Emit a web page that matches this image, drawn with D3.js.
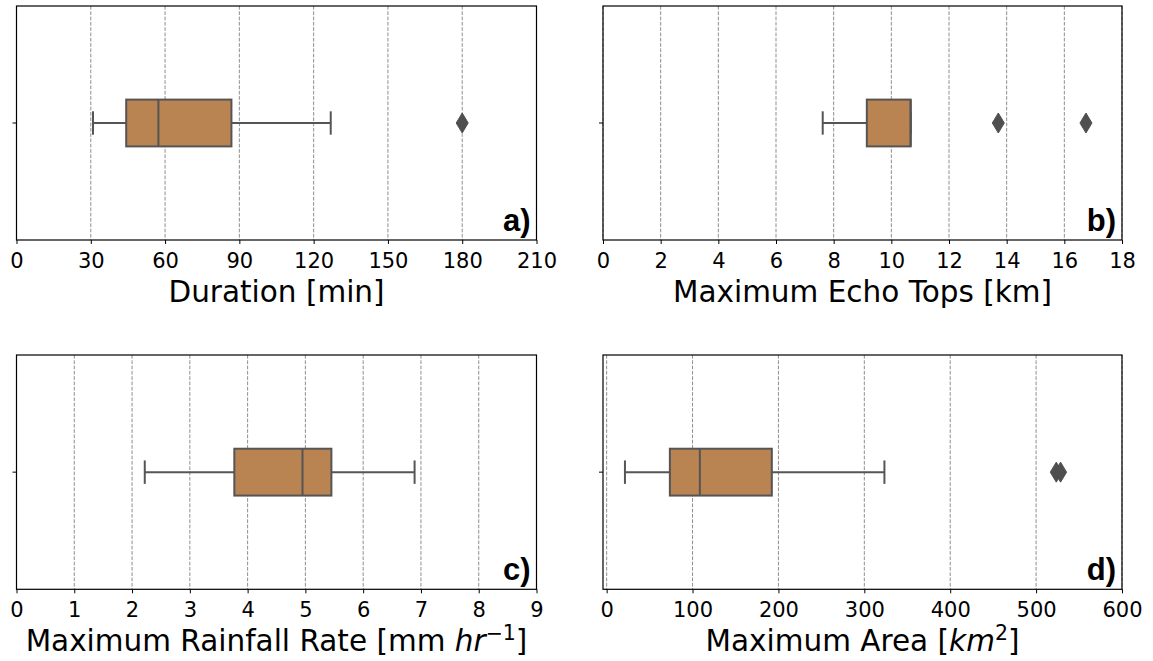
<!DOCTYPE html>
<html>
<head>
<meta charset="utf-8">
<script src="https://cdn.jsdelivr.net/npm/d3@7"></script>
<style>
  html, body { margin: 0; padding: 0; background: #fff; }
  svg { display: block; }
</style>
</head>
<body>
<svg id="chart" width="1153" height="661"></svg>
<script>
// ---- data ----
const panelLabels = ["a)", "b)", "c)", "d)"];
const axisTitles = ["Duration [min]", "Maximum Echo Tops [km]", "Maximum Rainfall Rate [mm ", "Maximum Area ["];
const xDomains = [[0, 210], [0, 18], [0, 9], [-4.25, 600]];
const xTicks = [
  [0, 30, 60, 90, 120, 150, 180, 210],
  [0, 2, 4, 6, 8, 10, 12, 14, 16, 18],
  [0, 1, 2, 3, 4, 5, 6, 7, 8, 9],
  [0, 100, 200, 300, 400, 500, 600]
];
const whiskerLow  = [30.9, 7.62, 2.22, 21.3];
const q1          = [44.3, 9.15, 3.77, 73.6];
const median      = [57.3, 10.67, 4.95, 108.5];
const q3          = [86.8, 10.67, 5.45, 192.3];
const whiskerHigh = [126.9, 10.67, 6.89, 323.4];
const outliers    = [[180], [13.71, 16.75], [], [523.5, 528.5]];

// ---- layout ----
const cols = [[16.5, 536.5], [603, 1122]];
const rows = [[6, 240], [355, 589.3]];
const boxColor = "#ba8452", lineColor = "#555555";

const svg = d3.select("#chart");

panelLabels.forEach((lab, i) => {
  const [x0, x1] = cols[i % 2];
  const [y0, y1] = rows[Math.floor(i / 2)];
  const x = d3.scaleLinear().domain(xDomains[i]).range([x0, x1]);
  const y = d3.scaleBand().domain(["s"]).range([y0, y1]).paddingInner(0).paddingOuter(0);
  const g = svg.append("g");
  const yc = y("s") + y.bandwidth() / 2;
  const bh = (y1 - y0) * 0.2;
  const ch = bh / 2;

  // grid
  g.selectAll(".grid").data(xTicks[i]).join("line")
    .attr("x1", d => x(d)).attr("x2", d => x(d))
    .attr("y1", y0).attr("y2", y1)
    .attr("stroke", "#8f8f8f").attr("stroke-width", 1)
    .attr("stroke-dasharray", "3.7,1.6");

  // x axis
  const ax = g.append("g").attr("transform", `translate(0,${y1})`)
    .call(d3.axisBottom(x).tickValues(xTicks[i]).tickSize(4).tickPadding(5).tickFormat(d3.format("d")));
  ax.select(".domain").remove();
  ax.selectAll(".tick line").attr("stroke", "#000").attr("stroke-width", 1);
  ax.selectAll(".tick text").attr("font-family", "DejaVu Sans").attr("font-size", 21)
    .attr("fill", "#000").attr("dy", null).attr("y", 27.5).attr("dominant-baseline", "auto");

  // y axis single tick
  const ay = g.append("g").attr("transform", `translate(${x0},0)`)
    .call(d3.axisLeft(y).tickSize(4).tickFormat(""));
  ay.select(".domain").remove();
  ay.selectAll(".tick line").attr("stroke", "#000").attr("stroke-width", 1);

  // whiskers
  g.append("line").attr("x1", x(whiskerLow[i])).attr("x2", x(q1[i]))
    .attr("y1", yc).attr("y2", yc).attr("stroke", lineColor).attr("stroke-width", 2);
  g.append("line").attr("x1", x(q3[i])).attr("x2", x(whiskerHigh[i]))
    .attr("y1", yc).attr("y2", yc).attr("stroke", lineColor).attr("stroke-width", 2);
  // caps
  [whiskerLow[i], whiskerHigh[i]].forEach(v => {
    g.append("line").attr("x1", x(v)).attr("x2", x(v))
      .attr("y1", yc - ch / 2).attr("y2", yc + ch / 2)
      .attr("stroke", lineColor).attr("stroke-width", 2);
  });
  // box
  g.append("rect").attr("x", x(q1[i])).attr("width", x(q3[i]) - x(q1[i]))
    .attr("y", yc - bh / 2).attr("height", bh)
    .attr("fill", boxColor).attr("stroke", lineColor).attr("stroke-width", 2);
  // median
  g.append("line").attr("x1", x(median[i])).attr("x2", x(median[i]))
    .attr("y1", yc - bh / 2).attr("y2", yc + bh / 2)
    .attr("stroke", lineColor).attr("stroke-width", 2);
  // outliers (thin diamonds)
  g.selectAll(".fl").data(outliers[i]).join("path")
    .attr("d", d => `M${x(d)},${yc - 10} L${x(d) + 6},${yc} L${x(d)},${yc + 10} L${x(d) - 6},${yc} Z`)
    .attr("fill", "#4f4f4f").attr("stroke", "#4f4f4f").attr("stroke-width", 1);

  // frame
  g.append("rect").attr("x", x0).attr("y", y0).attr("width", x1 - x0).attr("height", y1 - y0)
    .attr("fill", "none").attr("stroke", "#000").attr("stroke-width", 1.2);

  // panel label
  g.append("text").attr("x", x1 - 6).attr("y", y1 - 9)
    .attr("text-anchor", "end").attr("font-family", "Liberation Sans, Arial, sans-serif")
    .attr("font-weight", "bold").attr("font-size", 31).attr("fill", "#000").text(lab);

  // axis title
  const t = g.append("text").attr("x", (x0 + x1) / 2).attr("y", y1 + 62)
    .attr("text-anchor", "middle").attr("font-family", "DejaVu Sans")
    .attr("font-size", 29.5).attr("fill", "#000");
  t.append("tspan").text(axisTitles[i]);
  if (i === 2) {
    t.append("tspan").attr("font-style", "italic").text("hr");
    t.append("tspan").attr("font-size", 20.5).attr("dy", -11).text("\u22121");
    t.append("tspan").attr("dy", 11).text("]");
  } else if (i === 3) {
    t.append("tspan").attr("font-style", "italic").text("km");
    t.append("tspan").attr("font-size", 20.5).attr("dy", -11).text("2");
    t.append("tspan").attr("dy", 11).text("]");
  }
});
</script>
</body>
</html>
